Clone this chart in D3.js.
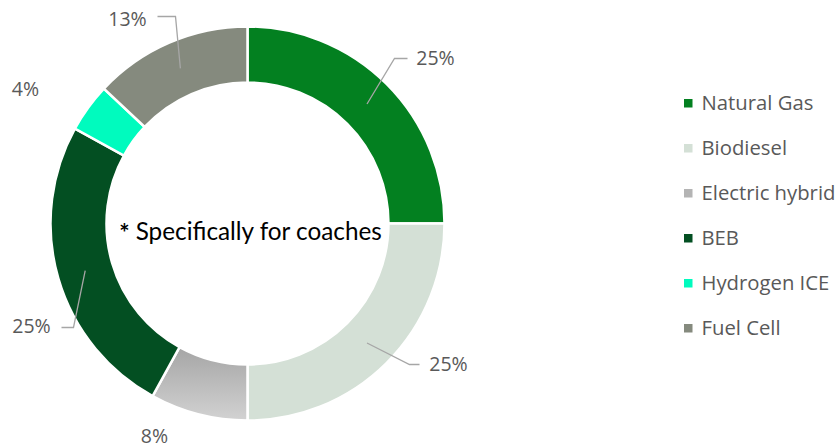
<!DOCTYPE html>
<html>
<head>
<meta charset="utf-8">
<script src="https://cdn.jsdelivr.net/npm/d3@7"></script>
<style>
  html, body { margin: 0; padding: 0; background: #fff; }
  svg { display: block; font-family: "Open Sans", sans-serif; }
</style>
</head>
<body>
<svg id="chart" width="840" height="448"></svg>
<script>
// Share of propulsion technologies (coaches)
const categories = ["Natural Gas", "Biodiesel", "Electric hybrid", "BEB", "Hydrogen ICE", "Fuel Cell"];
const shares = [25, 25, 8, 25, 4, 13];
const colors = ["#038020", "#D4E0D6", "url(#ehGrad)", "#034F22", "#00FBBE", "#858A7E"];
const legendColors = ["#038020", "#D4E0D6", "#B4B4B4", "#034F22", "#00FBBE", "#858A7E"];

// Label layout: text anchor offset from the centre, and an optional elbow for the leader line
const labelLayout = [
  { tx: 188, ty: -165, elbow: [147, -165], tail: [160, -165] },
  { tx: 201, ty: 141, elbow: [162, 141], tail: [172, 141] },
  { tx: -93, ty: 213 },
  { tx: -216, ty: 103, elbow: [-174, 104], tail: [-186, 104] },
  { tx: -222, ty: -134 },
  { tx: -120, ty: -204, elbow: [-72, -207], tail: [-90, -207] }
];

const svg = d3.select("#chart");
const cx = 247.5, cy = 223.5;
const outerR = 197, innerR = 141, labelR = 169;

const defs = svg.append("defs");
const grad = defs.append("linearGradient")
  .attr("id", "ehGrad").attr("x1", 0).attr("y1", 0).attr("x2", 0).attr("y2", 1);
grad.append("stop").attr("offset", "0%").attr("stop-color", "#A5A5A5");
grad.append("stop").attr("offset", "100%").attr("stop-color", "#D2D2D2");

const pie = d3.pie().sort(null).value(d => d);
const arcs = pie(shares);
const arc = d3.arc().innerRadius(innerR).outerRadius(outerR);
const mid = d3.arc().innerRadius(labelR).outerRadius(labelR);

const g = svg.append("g").attr("transform", `translate(${cx},${cy})`);

g.selectAll("path.slice")
  .data(arcs)
  .join("path")
  .attr("class", "slice")
  .attr("d", arc)
  .attr("fill", (d, i) => colors[i])
  .attr("stroke", "#fff")
  .attr("stroke-width", 2.5)
  .attr("stroke-linejoin", "miter");

// Leader lines
g.selectAll("polyline.leader")
  .data(arcs.filter((d, i) => labelLayout[i].elbow))
  .join("polyline")
  .attr("class", "leader")
  .attr("fill", "none")
  .attr("stroke", "#A6A6A6")
  .attr("stroke-width", 1.3)
  .attr("points", d => {
    const L = labelLayout[d.index];
    const c = mid.centroid(d);
    return [c, L.elbow, L.tail].map(p => p.join(",")).join(" ");
  });

// Percentage labels
g.selectAll("text.pct")
  .data(arcs)
  .join("text")
  .attr("class", "pct")
  .attr("x", d => labelLayout[d.index].tx)
  .attr("y", d => labelLayout[d.index].ty)
  .attr("dy", "0.35em")
  .attr("text-anchor", "middle")
  .attr("font-size", 19.5)
  .attr("fill", "#595959")
  .text(d => d3.format(".0f")(d.data) + "%");

// Centre note (bold, slightly lowered asterisk)
const note = g.append("text")
  .attr("x", 3)
  .attr("y", 7.5)
  .attr("text-anchor", "middle")
  .attr("font-family", "Lato, sans-serif")
  .attr("font-size", 24.3)
  .attr("fill", "#000");
note.append("tspan").attr("font-weight", "bold").attr("dy", "0.45em").text("*");
note.append("tspan").attr("dy", "-0.1em").text(" Specifically for coaches");

// Legend
const legendY = d3.scalePoint().domain(categories).range([103, 328]);
const legend = svg.append("g").selectAll("g")
  .data(categories)
  .join("g")
  .attr("transform", d => `translate(684,${legendY(d)})`);
legend.append("rect")
  .attr("x", 0).attr("y", -4).attr("width", 8.5).attr("height", 8.5)
  .attr("fill", (d, i) => legendColors[i]);
legend.append("text")
  .attr("x", 17.5).attr("y", 0).attr("dy", "0.35em")
  .attr("font-size", 20.3)
  .attr("fill", "#595959")
  .text(d => d);
</script>
</body>
</html>
